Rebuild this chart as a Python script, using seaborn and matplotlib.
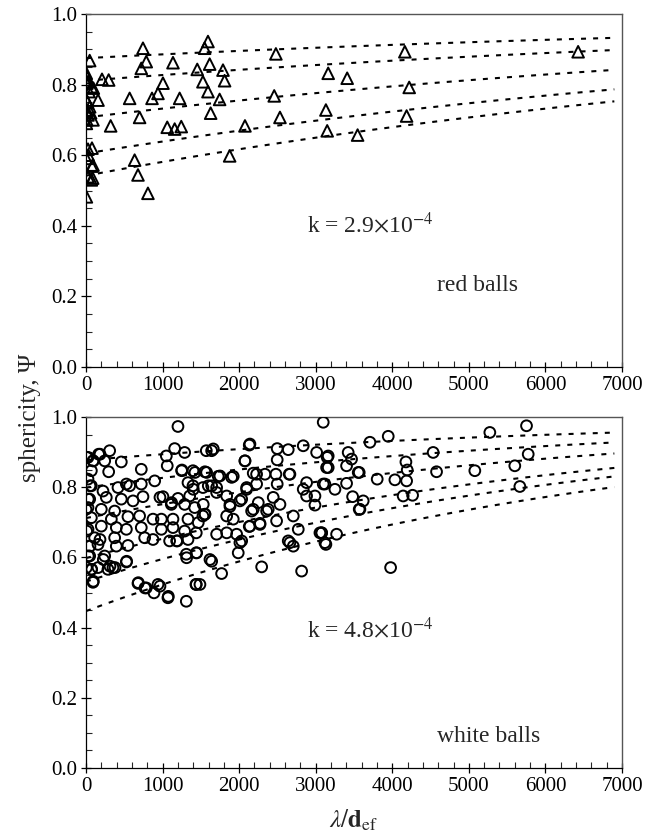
import numpy as np
import pandas as pd
import matplotlib
matplotlib.use("Agg")
import matplotlib.pyplot as plt
import seaborn as sns
from matplotlib.ticker import MultipleLocator

# ---------------- data ----------------
red_x = [48, 4, 10, 70, 26, 209, 296, 157, 5, 48, 8, 91, 5, 322, 26, 700, 570, 744, 787, 722,
         1136, 1005, 940, 862, 1223, 1061, 1158, 1244, 1593, 1549, 1615, 1453, 1789, 1527, 1810,
         1593, 1745, 1628, 26, 78, 5, 78, 635, 679, 70, 26, 809, 5, 1876, 2480, 3163, 3411, 2458,
         3133, 2533, 2076, 3150, 3547, 4164, 6427, 4221, 4187, 15, 40, 20, 60, 10, 87, 92, 30, 96]
red_y = [0.868, 0.832, 0.804, 0.794, 0.808, 0.815, 0.813, 0.756, 0.756, 0.737, 0.728, 0.700, 0.690,
         0.683, 0.714, 0.707, 0.761, 0.903, 0.865, 0.846, 0.862, 0.804, 0.775, 0.761, 0.761, 0.679,
         0.674, 0.681, 0.922, 0.903, 0.858, 0.843, 0.841, 0.808, 0.811, 0.780, 0.758, 0.719, 0.617,
         0.620, 0.591, 0.569, 0.586, 0.544, 0.530, 0.539, 0.492, 0.482, 0.598, 0.887, 0.832, 0.818,
         0.768, 0.728, 0.707, 0.683, 0.669, 0.657, 0.893, 0.893, 0.792, 0.711, 0.820, 0.780, 0.750,
         0.720, 0.700, 0.535, 0.572, 0.600, 0.790]

white_x = [1201, 26, 165, 309, 91, 244, 461, 70, 296, 722, 1049, 1158, 1288, 1061, 1253, 1397, 1571,
           26, 897, 70, 418, 527, 570, 722, 222, 1332, 1397, 1527, 48, 265, 461, 614, 744, 1005, 1201,
           1354, 1114, 1288, 1419, 26, 200, 374, 70, 331, 548, 700, 875, 984, 1136, 1332, 1527, 26, 200,
           396, 527, 722, 984, 1136, 1288, 1440, 113, 374, 766, 875, 1092, 1192, 1332, 157, 396, 548,
           48, 244, 527, 1310, 1440, 5, 70, 157, 287, 352, 91, 679, 787, 888, 940, 1070, 1310, 1440,
           3098, 1641, 2132, 2497, 2641, 2837, 3012, 2076, 2497, 1553, 1727, 1923, 2184, 2337, 2480,
           2654, 3142, 1597, 1706, 2098, 2228, 2497, 2881, 2837, 3098, 1837, 2033, 2445, 2881, 2990,
           1531, 1880, 2163, 2250, 2380, 2533, 1553, 1923, 2132, 2272, 2707, 2772, 3077, 1706, 1837,
           1967, 2033, 2641, 2707, 3120, 1619, 1988, 1771, 2294, 2816, 1488,
           3708, 3947, 4534, 4578, 3163, 3424, 3468, 3163, 3403, 3568, 4178, 4195, 4187, 4034, 3803,
           3120, 3251, 3403, 3482, 3620, 3568, 4142, 4265, 3077, 3273, 3133, 3978,
           5274, 5753, 5775, 5078, 5600, 5666,
           9, 96, 183, 52, 0, 30, 9, 74, 96, 30, 183, 52, 226, 313, 379, 531, 683, 770, 966, 1075,
           1436, 1641, 2663, 3055, 3555, 3577, 2990, 2663, 3150,
           966, 1118, 1553, 1466, 1184, 1314, 1445, 2010, 2141, 2272, 2489, 2184, 2359, 2010, 2098,
           2228, 1902, 1749, 1575, 1423, 1249, 1641, 1401, 1706, 1880, 1837, 1662, 2076, 2141]
white_y = [0.973, 0.885, 0.894, 0.904, 0.875, 0.875, 0.872, 0.847, 0.844, 0.851, 0.889, 0.910, 0.899,
           0.861, 0.849, 0.847, 0.904, 0.823, 0.818, 0.804, 0.799, 0.809, 0.804, 0.809, 0.789, 0.813,
           0.804, 0.799, 0.766, 0.771, 0.766, 0.761, 0.773, 0.773, 0.768, 0.775, 0.751, 0.751, 0.742,
           0.742, 0.737, 0.732, 0.713, 0.709, 0.716, 0.718, 0.709, 0.709, 0.709, 0.709, 0.718, 0.680,
           0.689, 0.685, 0.680, 0.685, 0.680, 0.685, 0.675, 0.670, 0.656, 0.656, 0.656, 0.651, 0.647,
           0.647, 0.651, 0.637, 0.632, 0.634, 0.604, 0.604, 0.587, 0.609, 0.613, 0.571, 0.566, 0.571,
           0.566, 0.571, 0.529, 0.526, 0.513, 0.499, 0.523, 0.485, 0.475, 0.523,
           0.985, 0.904, 0.920, 0.910, 0.907, 0.918, 0.899, 0.875, 0.878, 0.844, 0.831, 0.831, 0.840,
           0.837, 0.837, 0.837, 0.856, 0.804, 0.799, 0.799, 0.809, 0.809, 0.813, 0.794, 0.809, 0.775,
           0.766, 0.771, 0.775, 0.749, 0.751, 0.745, 0.732, 0.756, 0.737, 0.751, 0.723, 0.709, 0.688,
           0.697, 0.718, 0.680, 0.670, 0.666, 0.670, 0.666, 0.647, 0.647, 0.632, 0.642, 0.594, 0.613,
           0.554, 0.573, 0.561, 0.523,
           0.928, 0.945, 0.899, 0.844, 0.889, 0.899, 0.880, 0.856, 0.861, 0.842, 0.872, 0.849, 0.818,
           0.821, 0.823, 0.809, 0.794, 0.811, 0.773, 0.761, 0.737, 0.775, 0.777, 0.670, 0.666, 0.637,
           0.571,
           0.956, 0.975, 0.894, 0.847, 0.861, 0.802,
           0.885, 0.875, 0.894, 0.804, 0.737, 0.766, 0.675, 0.566, 0.532, 0.604, 0.651, 0.632, 0.594,
           0.575, 0.571, 0.589, 0.528, 0.513, 0.518, 0.489, 0.523, 0.589, 0.642, 0.670, 0.842, 0.737,
           0.775, 0.837, 0.885,
           0.771, 0.756, 0.723, 0.699, 0.647, 0.599, 0.613, 0.642, 0.689, 0.694, 0.704, 0.737, 0.732,
           0.761, 0.794, 0.837, 0.828, 0.832, 0.842, 0.842, 0.847, 0.804, 0.794, 0.785, 0.751, 0.718,
           0.909, 0.875, 0.923]

# model curves: psi = 1 - (1 - psi0) * exp(-k * x / 3.25)
red_psi0 = [0.875, 0.811, 0.707, 0.605, 0.542]
white_psi0 = [0.877, 0.799, 0.712, 0.598, 0.531, 0.447]
red_k = 2.9e-4
white_k = 4.8e-4

x_ticks = [0, 1000, 2000, 3000, 4000, 5000, 6000, 7000]
y_ticks = [0.0, 0.2, 0.4, 0.6, 0.8, 1.0]

# ---------------- style ----------------
sns.set_style("ticks")
plt.rcParams['font.family'] = ['Liberation Serif', 'DejaVu Serif']
plt.rcParams['mathtext.fontset'] = 'stix'

fig = plt.figure(figsize=(6.58, 8.39), dpi=100)
ax1 = fig.add_axes([86/658, 1-367/839, 536/658, 353/839])
ax2 = fig.add_axes([86/658, 1-768/839, 536/658, 351/839])

xs = np.linspace(0, 6900, 120)
dash = (0, (2.4, 3.4))


def draw(ax, px, py, psi0s, k, marker, s):
    for p0 in psi0s:
        ys = 1 - (1 - p0) * np.exp(-k * xs / 3.25)
        sns.lineplot(x=xs, y=ys, ax=ax, color='black', lw=1.5, linestyle=dash, zorder=2)
    sc = sns.scatterplot(x=px, y=py, ax=ax, marker=marker, s=s, color='black',
                         linewidth=1.4, zorder=3)
    for c in ax.collections:
        c.set_facecolor('none')
        c.set_edgecolor('black')
    ax.set_xlim(0, 7000)
    ax.set_ylim(0, 1.0)
    ax.set_xticks(x_ticks)
    ax.set_yticks(y_ticks)
    ax.set_xticklabels([str(t) for t in x_ticks])
    ax.set_yticklabels([f"{t:.1f}" for t in y_ticks])
    ax.xaxis.set_minor_locator(MultipleLocator(200))
    ax.yaxis.set_minor_locator(MultipleLocator(0.05))
    ax.tick_params(which='major', direction='inout', length=7, width=0.9, labelsize=15, pad=3,
                   top=False, right=False, colors='black')
    ax.tick_params(which='minor', direction='in', length=4, width=0.8, top=False, right=False)
    for side in ['left', 'bottom']:
        ax.spines[side].set_color('black')
        ax.spines[side].set_linewidth(0.9)
    for side in ['top', 'right']:
        ax.spines[side].set_visible(True)
        ax.spines[side].set_color('#555555')
        ax.spines[side].set_linewidth(1.0)
    ax.set_xlabel('')
    ax.set_ylabel('')


draw(ax1, red_x, red_y, red_psi0, red_k, '^', 70)
draw(ax2, white_x, white_y, white_psi0, white_k, 'o', 60)

ax1.text(2880, 0.402, r'k = 2.9$\times$10$^{-4}$', fontsize=17, va='center', ha='left')
ax1.text(4580, 0.232, 'red balls', fontsize=17, va='center', ha='left')
ax2.text(2880, 0.394, r'k = 4.8$\times$10$^{-4}$', fontsize=17, va='center', ha='left')
ax2.text(4580, 0.089, 'white balls', fontsize=17, va='center', ha='left')

fig.text(30/658, 1-418/839, 'sphericity, Ψ', rotation=90, fontsize=18, ha='center', va='center')
fig.text(354/658, 1-820/839, r'$\lambda/\mathbf{d}_{\mathrm{ef}}$', fontsize=18, ha='center', va='center')

fig.savefig('out.png', dpi=100)
